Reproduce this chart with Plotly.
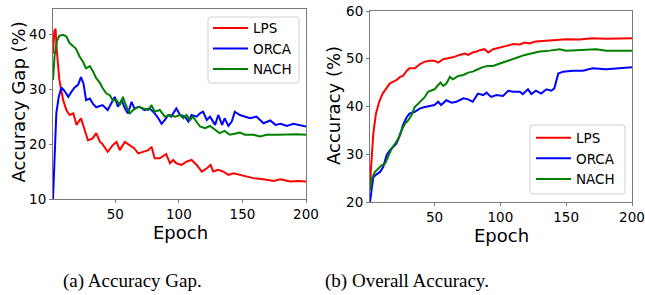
import plotly.graph_objects as go

# ---------------- data: (a) Accuracy Gap ----------------
gap_lps_x = [1, 2, 3, 4, 6, 9, 11.5, 14, 17, 19.5, 23, 26, 28.5, 32, 35, 38, 40, 44, 48, 51, 53.5,
             57.5, 61.5, 65, 68, 72, 76, 78.5, 81, 85, 90, 93, 95.5, 98, 102, 106, 110, 114, 118,
             122, 125, 127, 131, 135, 139, 143, 148, 153, 158.5, 166.5, 174.5, 180, 187.5, 194, 200]
gap_lps_y = [36.5, 40.5, 41.0, 37.0, 31.7, 28.0, 26.2, 25.3, 25.6, 23.5, 24.7, 22.6, 20.7, 21.0, 22.0,
             20.4, 20.0, 18.6, 19.8, 20.4, 18.9, 20.4, 19.8, 19.2, 18.3, 18.6, 18.9, 19.5, 17.4, 17.4,
             18.2, 16.5, 17.1, 16.5, 16.2, 16.8, 17.1, 16.2, 15.0, 15.6, 16.2, 15.0, 15.3, 15.0, 14.4,
             14.7, 14.4, 14.1, 13.8, 13.6, 13.3, 13.6, 13.2, 13.3, 13.2]

gap_orca_x = [1, 2.3, 3.6, 5.5, 7.6, 10, 13, 15.5, 18, 20.7, 23, 25, 27, 30, 32.5, 35, 38, 40, 44, 47,
              49.6, 52, 55, 57.5, 60, 62.8, 65, 69, 73, 77, 81, 83.8, 86.4, 89, 91.7, 94, 98, 101,
              104.8, 107.5, 110, 114, 116.6, 119, 122, 124.5, 128.5, 131, 134, 136, 139, 141.6, 144,
              148, 152, 156, 161, 166.6, 171.9, 176, 180, 185, 190, 195.5, 200]
gap_orca_y = [10.0, 19.5, 25.6, 28.6, 30.3, 29.7, 28.6, 29.5, 30.3, 30.8, 32.2, 31.0, 28.0, 28.3, 27.3,
              26.7, 26.9, 27.1, 26.2, 27.4, 28.6, 26.8, 28.0, 26.5, 25.6, 27.7, 26.5, 26.8, 26.2, 26.5,
              25.6, 24.7, 23.7, 24.4, 25.3, 25.0, 26.5, 25.3, 25.0, 24.1, 25.3, 25.0, 25.6, 25.9, 24.4,
              25.0, 23.5, 25.3, 23.5, 24.7, 23.3, 24.1, 25.9, 25.3, 25.0, 24.7, 25.0, 23.8, 24.3, 23.5,
              23.7, 23.3, 23.7, 23.5, 23.2]

gap_nach_x = [1, 2.3, 4, 6, 9, 11.5, 14, 17, 19, 22, 24.6, 27, 30, 32.5, 35, 38, 40, 43, 45.7, 48, 51,
              53.6, 56, 58.8, 61.5, 64, 68, 72, 76, 78.5, 81, 85, 89, 93, 97, 101, 103.5, 106, 108.8,
              111, 114, 116.6, 120.6, 124.5, 128.5, 132, 136, 140, 144, 148, 152, 158.7, 164, 169,
              177, 185, 193, 200]
gap_nach_y = [31.7, 36.2, 38.7, 39.7, 39.9, 39.6, 38.4, 37.7, 37.4, 35.9, 35.0, 33.8, 34.2, 33.2, 32.0,
              31.1, 30.2, 29.2, 28.9, 28.0, 28.0, 27.1, 28.6, 26.8, 25.6, 26.2, 26.8, 26.5, 26.2, 27.1,
              25.9, 26.2, 25.0, 25.3, 25.0, 25.3, 24.7, 25.3, 24.4, 25.0, 24.1, 23.2, 22.9, 23.3, 22.6,
              22.0, 22.4, 21.7, 21.9, 22.1, 21.7, 21.7, 21.4, 21.7, 21.7, 21.8, 21.8, 21.7]

# ---------------- data: (b) Overall Accuracy ----------------
acc_lps_x = [1, 2.3, 3.5, 5.5, 8, 10.6, 13.6, 16, 18.7, 21, 23.8, 26, 29, 31, 35, 39, 42.7, 46.5, 50,
             52.8, 56.6, 60, 64, 69, 73, 75.6, 79, 82, 84.4, 88, 90.8, 94.5, 99.6, 104.7, 109.7,
             114.8, 118.6, 122, 127, 135, 142.6, 150, 160, 170, 180.5, 190.6, 200]
acc_lps_y = [23.8, 29.4, 34.3, 38.5, 41.0, 42.7, 43.8, 44.8, 45.2, 45.5, 46.2, 46.4, 47.5, 48.0, 48.0,
             48.9, 49.4, 49.6, 49.6, 49.2, 49.9, 50.1, 50.3, 50.8, 51.1, 50.8, 51.3, 51.5, 51.8, 52.0,
             51.3, 52.0, 52.3, 52.7, 53.1, 53.0, 53.4, 53.2, 53.6, 53.8, 53.9, 54.1, 54.05, 54.3, 54.2,
             54.3, 54.3]

acc_orca_x = [1, 2.3, 3.5, 6, 8.6, 11, 13.6, 16, 18.7, 21, 23.8, 26, 29, 31, 35, 39, 42.7, 46.5, 50,
              52.8, 55, 59, 63, 66.7, 72, 75.6, 79, 83, 87, 89.5, 93, 97, 102, 106, 109.7, 114.8,
              117, 121, 123.6, 127, 131, 135, 138.8, 141, 144, 147.7, 155, 162.8, 170, 180.5, 190.6, 200]
acc_orca_y = [20.0, 23.1, 25.2, 25.8, 26.3, 27.3, 29.8, 30.8, 31.5, 32.2, 34.0, 36.1, 37.8, 38.5, 38.9,
              39.6, 39.9, 40.1, 40.3, 41.0, 40.3, 41.3, 40.8, 41.0, 41.7, 41.5, 41.0, 42.7, 42.4, 42.9,
              42.0, 42.4, 42.2, 43.3, 43.1, 43.1, 42.6, 43.6, 42.6, 43.3, 42.7, 43.6, 43.3, 43.8, 46.9,
              47.3, 47.5, 47.5, 48.0, 47.8, 48.0, 48.2]

acc_nach_x = [1, 2.3, 4.8, 7.3, 9.8, 12.4, 15, 17.4, 20, 22.5, 25, 27.5, 30, 32.6, 35, 37.7, 40, 42.7,
              45, 47.8, 50, 52.8, 54.6, 56.6, 59, 61.7, 64, 68, 72, 75.6, 79, 83, 87, 90.8, 94.5, 99.6,
              103.4, 106, 109.7, 113.5, 118.6, 123.6, 130, 137.5, 145, 150, 157.7, 165, 173, 180.5,
              190.6, 200]
acc_nach_y = [22.4, 24.9, 26.3, 27.0, 27.7, 28.0, 29.8, 31.2, 32.2, 33.3, 35.0, 36.4, 37.1, 38.2, 39.9,
              40.6, 41.3, 42.0, 43.1, 43.4, 43.6, 44.5, 45.0, 44.3, 44.8, 46.2, 45.7, 46.4, 46.6, 47.1,
              47.3, 47.8, 48.3, 48.5, 48.5, 49.0, 49.4, 49.6, 49.9, 50.3, 50.8, 51.1, 51.5, 51.7, 52.0,
              51.7, 51.8, 52.0, 52.0, 51.7, 51.7, 51.7]

series_names = ["LPS", "ORCA", "NACH"]
series_colors = ["#ff0000", "#0000ff", "#008000"]
x_ticks = [50, 100, 150, 200]
gap_ticks = [10, 20, 30, 40]
acc_ticks = [20, 30, 40, 50, 60]
x_title = "Epoch"
y_titles = ["Accuracy Gap (%)", "Accuracy (%)"]
captions = ["(a) Accuracy Gap.", "(b) Overall Accuracy."]

W, H = 645, 295
FONT = "DejaVu Sans"


def px_x(p):
    return p / W


def px_y(p):
    return 1 - p / H


def rounded_box(x0, y0, x1, y1, r=3):
    """SVG path (paper coords) for a rounded rectangle given in window pixels."""
    X = lambda v: f"{px_x(v):.5f}"
    Y = lambda v: f"{px_y(v):.5f}"
    pts = [
        f"M{X(x0 + r)},{Y(y0)}",
        f"L{X(x1 - r)},{Y(y0)}",
        f"Q{X(x1)},{Y(y0)} {X(x1)},{Y(y0 + r)}",
        f"L{X(x1)},{Y(y1 - r)}",
        f"Q{X(x1)},{Y(y1)} {X(x1 - r)},{Y(y1)}",
        f"L{X(x0 + r)},{Y(y1)}",
        f"Q{X(x0)},{Y(y1)} {X(x0)},{Y(y1 - r)}",
        f"L{X(x0)},{Y(y0 + r)}",
        f"Q{X(x0)},{Y(y0)} {X(x0 + r)},{Y(y0)}",
    ]
    return " ".join(pts) + " Z"


fig = go.Figure()

left = [(gap_lps_x, gap_lps_y), (gap_orca_x, gap_orca_y), (gap_nach_x, gap_nach_y)]
right = [(acc_lps_x, acc_lps_y), (acc_orca_x, acc_orca_y), (acc_nach_x, acc_nach_y)]

for (xs, ys), name, col in zip(left, series_names, series_colors):
    fig.add_trace(go.Scatter(x=xs, y=ys, mode="lines", name=name, legend="legend",
                             line=dict(color=col, width=2), xaxis="x", yaxis="y"))
for (xs, ys), name, col in zip(right, series_names, series_colors):
    fig.add_trace(go.Scatter(x=xs, y=ys, mode="lines", name=name, legend="legend2",
                             line=dict(color=col, width=2), xaxis="x2", yaxis="y2"))

axis_common = dict(showline=True, mirror=True, linecolor="#7a7a7a", linewidth=1,
                   ticks="outside", ticklen=3, tickcolor="#7a7a7a", tickwidth=1,
                   showgrid=False, zeroline=False, automargin=False,
                   ticklabeloverflow="allow",
                   tickfont=dict(family=FONT, size=13.5, color="#000"))

legend_common = dict(xanchor="left", yanchor="top", bgcolor="rgba(0,0,0,0)", borderwidth=0,
                     itemwidth=35, font=dict(family=FONT, size=13.5, color="#000"))

fig.update_layout(
    width=W, height=H,
    margin=dict(l=0, r=0, t=0, b=0, pad=0, autoexpand=False),
    paper_bgcolor="white", plot_bgcolor="white",
    font=dict(family=FONT, color="#000"),
    xaxis=dict(domain=[px_x(53), px_x(306)], range=[1, 200], tickvals=x_ticks, anchor="y",
               **axis_common),
    yaxis=dict(domain=[px_y(199), px_y(9)], range=[10, 44.6], tickvals=gap_ticks, anchor="x",
               **axis_common),
    xaxis2=dict(domain=[px_x(370), px_x(632)], range=[1, 200], tickvals=x_ticks, anchor="y2",
                **axis_common),
    yaxis2=dict(domain=[px_y(202), px_y(11)], range=[20, 60], tickvals=acc_ticks, anchor="x2",
                **axis_common),
    legend=dict(x=px_x(208), y=px_y(12.7), **legend_common),
    legend2=dict(x=px_x(531), y=px_y(122.5), **legend_common),
    showlegend=True,
)

# legend frames (matplotlib-style, semi-transparent white, light grey rounded border)
for (x0, y0, x1, y1) in [(208, 17, 299, 83), (530, 125, 625, 194)]:
    fig.add_shape(type="path", path=rounded_box(x0, y0, x1, y1), xref="paper", yref="paper",
                  fillcolor="rgba(255,255,255,0.8)", line=dict(color="#d0d0d0", width=1),
                  layer="above")

# axis titles
for cx, cy in [(180, 232), (501, 235)]:
    fig.add_annotation(text=x_title, x=px_x(cx), y=px_y(cy), xref="paper", yref="paper",
                       showarrow=False, xanchor="center", yanchor="middle", borderpad=0,
                       font=dict(family=FONT, size=18, color="#000"))
for txt, cx, cy in zip(y_titles, [17.5, 333], [102, 106]):
    fig.add_annotation(text=txt, x=px_x(cx), y=px_y(cy), xref="paper", yref="paper",
                       showarrow=False, xanchor="center", yanchor="middle", textangle=-90,
                       font=dict(family=FONT, size=18, color="#000"))

for txt, cx in zip(captions, [132, 407]):
    fig.add_annotation(text=txt, x=px_x(cx), y=px_y(281), xref="paper", yref="paper",
                       showarrow=False, xanchor="center", yanchor="middle",
                       font=dict(family="Liberation Serif", size=19, color="#000"))

# the default page body has an 8px margin; remove it so the 645x295 figure fills the window
fig.write_html("out.html", config={"displayModeBar": False},
               post_script="document.body.style.margin='0';")
